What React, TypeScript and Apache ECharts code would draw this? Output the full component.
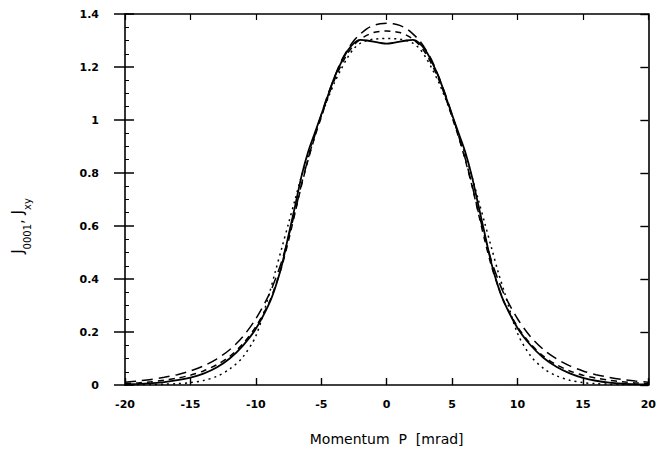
import React, { useEffect, useRef } from "react";
import * as echarts from "echarts";

// Momentum P [mrad]
const P_VALUES = [
  -20, -19, -18, -17, -16, -15, -14, -13, -12, -11, -10, -9, -8.5, -8, -7.5, -7, -6.5, -6, -5.5, -5,
  -4.5, -4, -3.5, -3, -2.5, -2, -1.5, -1, -0.5, 0, 0.5, 1, 1.5, 2, 2.5, 3, 3.5, 4, 4.5, 5, 5.5, 6,
  6.5, 7, 7.5, 8, 8.5, 9, 10, 11, 12, 13, 14, 15, 16, 17, 18, 19, 20,
];

// solid curve
const SOLID = [
  0.002, 0.004, 0.007, 0.011, 0.018, 0.028, 0.043, 0.066, 0.1, 0.148, 0.212, 0.305, 0.37, 0.455,
  0.565, 0.675, 0.79, 0.88, 0.95, 1.02, 1.09, 1.16, 1.215, 1.26, 1.29, 1.302, 1.3, 1.296, 1.291,
  1.288, 1.291, 1.296, 1.3, 1.302, 1.29, 1.26, 1.215, 1.16, 1.09, 1.02, 0.95, 0.88, 0.79, 0.68,
  0.57, 0.46, 0.375, 0.31, 0.215, 0.15, 0.102, 0.068, 0.044, 0.027, 0.016, 0.009, 0.005, 0.003,
  0.002,
];

// long-dashed curve
const LONG_DASH = [
  0.01, 0.015, 0.021, 0.029, 0.039, 0.053, 0.072, 0.098, 0.133, 0.182, 0.25, 0.34, 0.4, 0.47,
  0.56, 0.655, 0.76, 0.855, 0.94, 1.02, 1.095, 1.16, 1.22, 1.265, 1.3, 1.325, 1.345, 1.357, 1.363,
  1.365, 1.363, 1.357, 1.345, 1.325, 1.3, 1.265, 1.22, 1.16, 1.095, 1.02, 0.94, 0.855, 0.76, 0.655,
  0.56, 0.47, 0.4, 0.34, 0.25, 0.182, 0.133, 0.098, 0.072, 0.053, 0.039, 0.029, 0.021, 0.015, 0.01,
];

// medium-dashed curve
const MED_DASH = [
  0.005, 0.008, 0.012, 0.018, 0.026, 0.037, 0.053, 0.076, 0.108, 0.155, 0.22, 0.31, 0.375, 0.45,
  0.545, 0.65, 0.755, 0.85, 0.935, 1.01, 1.085, 1.15, 1.205, 1.25, 1.283, 1.305, 1.32, 1.33, 1.334,
  1.336, 1.334, 1.33, 1.32, 1.305, 1.283, 1.25, 1.205, 1.15, 1.085, 1.01, 0.935, 0.85, 0.755, 0.65,
  0.545, 0.45, 0.375, 0.31, 0.22, 0.155, 0.108, 0.076, 0.053, 0.037, 0.026, 0.018, 0.012, 0.008,
  0.005,
];

// dotted curve
const DOTTED = [
  0.0, 0.001, 0.002, 0.003, 0.005, 0.009, 0.017, 0.032, 0.06, 0.105, 0.185, 0.34, 0.43, 0.52,
  0.61, 0.7, 0.79, 0.87, 0.945, 1.015, 1.08, 1.14, 1.19, 1.235, 1.27, 1.29, 1.3, 1.305, 1.307,
  1.308, 1.307, 1.305, 1.3, 1.29, 1.27, 1.235, 1.19, 1.14, 1.08, 1.015, 0.945, 0.87, 0.79, 0.7,
  0.61, 0.52, 0.43, 0.35, 0.195, 0.11, 0.062, 0.034, 0.018, 0.009, 0.005, 0.003, 0.002, 0.001, 0.0,
];

const X_TICKS = [-20, -15, -10, -5, 0, 5, 10, 15, 20];
const Y_TICK_LABELS = ["0", "0.2", "0.4", "0.6", "0.8", "1", "1.2", "1.4"];

const pairs = (ys: number[]) => P_VALUES.map((p, i) => [p, ys[i]]);

export default function App() {
  const ref = useRef<HTMLDivElement>(null);
  useEffect(() => {
    if (!ref.current) return;
    const chart = echarts.init(ref.current, null, { renderer: "svg" });
    const axisLine = { show: true, onZero: false, lineStyle: { color: "#000", width: 1.6 } };
    const labelFont = {
      color: "#000",
      fontFamily: "DejaVu Sans",
      fontWeight: "bold" as const,
      fontSize: 11,
    };
    const lineSeries = (name: string, ys: number[], type: any, width: number) => ({
      name,
      type: "line",
      data: pairs(ys),
      smooth: 0.3,
      showSymbol: false,
      symbol: "none",
      lineStyle: { color: "#000", width, type },
      xAxisIndex: 0,
      yAxisIndex: 0,
    });
    chart.setOption({
      animation: false,
      backgroundColor: "#fff",
      grid: { left: 117, right: 7, top: 6, bottom: 52, containLabel: false },
      xAxis: [
        {
          type: "value",
          min: -20,
          max: 20,
          interval: 5,
          position: "bottom",
          axisLine,
          axisTick: { show: true, inside: true, length: 7, lineStyle: { color: "#000", width: 1.4 } },
          axisLabel: {
            ...labelFont,
            margin: 14,
            formatter: (v: number) => (X_TICKS.includes(v) ? String(v) : ""),
          },
          splitLine: { show: false },
          name: "Momentum  P  [mrad]",
          nameLocation: "middle",
          nameGap: 47,
          nameTextStyle: { color: "#000", fontFamily: "DejaVu Sans", fontSize: 14 },
        },
        {
          type: "value",
          min: -20,
          max: 20,
          interval: 5,
          position: "top",
          axisLine,
          axisTick: { show: true, inside: true, length: 6, lineStyle: { color: "#000", width: 1.2 } },
          axisLabel: { show: false },
          splitLine: { show: false },
        },
      ],
      yAxis: [
        {
          type: "value",
          min: 0,
          max: 1.4,
          interval: 0.2,
          position: "left",
          axisLine,
          axisTick: { show: true, inside: false, length: 11, lineStyle: { color: "#000", width: 1.5 } },
          axisLabel: {
            ...labelFont,
            margin: 26,
            formatter: (v: number) => Y_TICK_LABELS[Math.round(v / 0.2)] ?? "",
          },
          splitLine: { show: false },
        },
        {
          type: "value",
          min: 0,
          max: 1.4,
          interval: 0.2,
          position: "left",
          axisLine: { show: false, onZero: false },
          axisTick: { show: true, inside: true, length: 9, lineStyle: { color: "#000", width: 1.5 } },
          minorTick: { show: true, splitNumber: 4, length: 4, lineStyle: { color: "#000", width: 1 } },
          axisLabel: { show: false },
          splitLine: { show: false },
        },
        {
          type: "value",
          min: 0,
          max: 1.4,
          interval: 0.2,
          position: "right",
          axisLine,
          axisTick: { show: true, inside: true, length: 8, lineStyle: { color: "#000", width: 1.4 } },
          axisLabel: { show: false },
          splitLine: { show: false },
        },
      ],
      series: [
        lineSeries("solid", SOLID, "solid", 1.8),
        lineSeries("long dash", LONG_DASH, [11, 6], 1.5),
        lineSeries("medium dash", MED_DASH, [6, 5], 1.5),
        lineSeries("dotted", DOTTED, [2, 4], 1.5),
      ],
      graphic: [
        {
          type: "text",
          x: 13,
          y: 218,
          rotation: Math.PI / 2,
          style: {
            text: "{m|J}{s|0001}{m|, J}{s|xy}",
            fill: "#000",
            align: "center",
            verticalAlign: "middle",
            rich: {
              m: { fontFamily: "DejaVu Sans", fontSize: 15, fill: "#000", lineHeight: 22, verticalAlign: "top" },
              s: { fontFamily: "DejaVu Sans", fontSize: 10, fill: "#000", lineHeight: 22, verticalAlign: "bottom" },
            },
          },
        },
      ],
    });
    return () => chart.dispose();
  }, []);
  return <div ref={ref} style={{ width: 651, height: 443 }} />;
}
